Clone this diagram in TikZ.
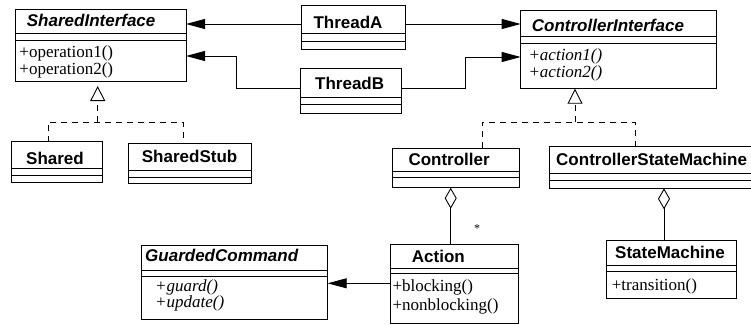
\documentclass[tikz,border=0pt]{standalone}
\usepackage{fontspec}
\setmainfont{Liberation Serif}
\setsansfont{Liberation Sans}
\usetikzlibrary{arrows.meta}
\tikzset{
  box/.style={draw, line width=0.9pt, inner sep=0pt, outer sep=0pt, anchor=north west},
  sep/.style={line width=0.9pt},
  title/.style={anchor=base west, inner sep=0pt, font=\fontsize{17}{20}\selectfont\sffamily\bfseries},
  atitle/.style={title, font=\fontsize{17}{20}\selectfont\sffamily\bfseries\itshape},
  meth/.style={anchor=base west, inner sep=0pt, font=\fontsize{17}{20}\selectfont},
  ameth/.style={meth, font=\fontsize{17}{20}\selectfont\itshape},
  assoc/.style={line width=0.9pt, -{Triangle[length=19pt,width=10pt]}},
  realize/.style={line width=0.9pt, dash pattern=on 6pt off 5pt},
  gen/.style={realize, -{Triangle[open,length=15pt,width=15pt,line width=0.9pt]}},
  aggr/.style={line width=0.9pt, {Diamond[open,length=21pt,width=12pt,line width=0.9pt]}-},
}
\begin{document}
\begin{tikzpicture}[x=1pt,y=-1pt]
\useasboundingbox (0,0) rectangle (751,324);
\clip (0,0) rectangle (751,324);

% SharedInterface
\node[box, minimum width=171pt, minimum height=72pt] (sif) at (15,9) {};
\draw[sep] (sif.west |- 0,33) -- (sif.east |- 0,33);
\draw[sep] (sif.west |- 0,40) -- (sif.east |- 0,40);
\node[atitle] (sift) at (26.7,26.7) {SharedInterface};
\node[meth] (sifm1) at (19.3,57.6) {+operation1()};
\node[meth] (sifm2) at (19.3,74.2) {+operation2()};

% ThreadA
\node[box, minimum width=103.3pt, minimum height=44pt] (ta) at (301.7,5) {};
\draw[sep] (ta.west |- 0,33) -- (ta.east |- 0,33);
\draw[sep] (ta.west |- 0,41.7) -- (ta.east |- 0,41.7);
\node[title] (tat) at (313.3,28.3) {ThreadA};

% ThreadB
\node[box, minimum width=101.7pt, minimum height=45pt] (tb) at (300,68) {};
\draw[sep] (tb.west |- 0,97) -- (tb.east |- 0,97);
\draw[sep] (tb.west |- 0,104) -- (tb.east |- 0,104);
\node[title] (tbt) at (315,89.3) {ThreadB};

% ControllerInterface
\node[box, minimum width=195.3pt, minimum height=78pt] (ci) at (520.7,10.7) {};
\draw[sep] (ci.west |- 0,36) -- (ci.east |- 0,36);
\draw[sep] (ci.west |- 0,43) -- (ci.east |- 0,43);
\node[atitle] (cit) at (531.7,31.7) {ControllerInterface};
\node[ameth] (cim1) at (528.3,60.7) {+action1()};
\node[ameth] (cim2) at (528.3,77.3) {+action2()};

% Shared
\node[box, minimum width=91pt, minimum height=41pt] (sh) at (11,141.7) {};
\draw[sep] (sh.west |- 0,168) -- (sh.east |- 0,168);
\draw[sep] (sh.west |- 0,175) -- (sh.east |- 0,175);
\node[title] (sht) at (26,164) {Shared};

% SharedStub
\node[box, minimum width=123pt, minimum height=40pt] (ss) at (128,143) {};
\draw[sep] (ss.west |- 0,170) -- (ss.east |- 0,170);
\draw[sep] (ss.west |- 0,177) -- (ss.east |- 0,177);
\node[title] (sst) at (141.7,162.7) {SharedStub};

% Controller
\node[box, minimum width=126.3pt, minimum height=39.7pt] (ct) at (392.7,148) {};
\draw[sep] (ct.west |- 0,171.7) -- (ct.east |- 0,171.7);
\draw[sep] (ct.west |- 0,177.3) -- (ct.east |- 0,177.3);
\node[title] (ctt) at (408.3,165.7) {Controller};

% ControllerStateMachine
\node[box, minimum width=215pt, minimum height=42.3pt] (csm) at (549.3,146) {};
\draw[sep] (csm.west |- 0,173.3) -- (csm.east |- 0,173.3);
\draw[sep] (csm.west |- 0,180) -- (csm.east |- 0,180);
\node[title] (csmt) at (556,165) {ControllerStateMachine};

% Action
\node[box, minimum width=128pt, minimum height=79pt] (ac) at (390,244) {};
\draw[sep] (ac.west |- 0,268) -- (ac.east |- 0,268);
\draw[sep] (ac.west |- 0,273) -- (ac.east |- 0,273);
\node[title] (act) at (411.7,262.7) {Action};
\node[meth] (acm1) at (392.3,291.7) {+blocking()};
\node[meth] (acm2) at (392.3,310.7) {+nonblocking()};

% GuardedCommand
\node[box, minimum width=186pt, minimum height=74.3pt] (gc) at (141.7,245) {};
\draw[sep] (gc.west |- 0,270) -- (gc.east |- 0,270);
\draw[sep] (gc.west |- 0,276.7) -- (gc.east |- 0,276.7);
\node[atitle] (gct) at (145,261.7) {GuardedCommand};
\node[ameth] (gcm1) at (155,291.4) {+guard()};
\node[ameth] (gcm2) at (155,307.8) {+update()};

% StateMachine
\node[box, minimum width=130pt, minimum height=57.5pt] (sm) at (606.7,240.7) {};
\draw[sep] (sm.west |- 0,265.7) -- (sm.east |- 0,265.7);
\draw[sep] (sm.west |- 0,271) -- (sm.east |- 0,271);
\node[title] (smt) at (615,258.3) {StateMachine};
\node[meth] (smm1) at (611.7,290) {+transition()};

% Associations
\draw[assoc] (ta.west |- 0,24) -- (sif.east |- 0,24);
\draw[assoc] (ta.east |- 0,24) -- (ci.west |- 0,24);
\draw[assoc] (tb.west |- 0,88) -- (236,88) |- (sif.east |- 0,56);
\draw[assoc] (tb.east |- 0,88) -- (465,88) |- (ci.west |- 0,57);
\draw[assoc] (ac.west |- 0,283.3) -- (gc.east |- 0,283.3);

% Generalisation (realisation)
\coordinate (sj) at (97.7,122);
\draw[realize] (sh.north -| 48,0) -- (48,122) -- (183,122) -- (ss.north -| 183,0);
\draw[gen] (sj) -- ([yshift=-5pt]sif.south -| sj);
\coordinate (cj) at (575,122);
\draw[realize] (ct.north -| 482,0) -- (482,122) -- (635,122) -- (csm.north -| 635,0);
\draw[gen] (cj) -- (ci.south -| cj);

% Aggregations
\draw[aggr] (ct.south -| 450.7,0) -- (ac.north -| 450.7,0);
\node[inner sep=0pt, font=\fontsize{12}{14}\selectfont] (star) at (477,229) {*};
\draw[aggr] (csm.south -| 664,0) -- (sm.north -| 664,0);
\end{tikzpicture}
\end{document}
